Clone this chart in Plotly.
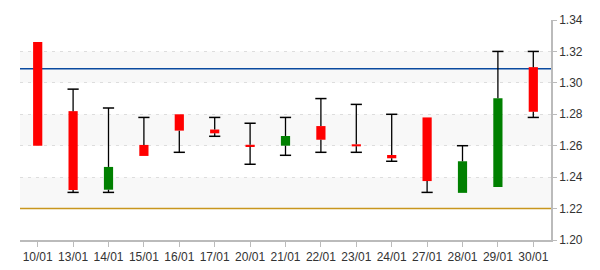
import plotly.graph_objects as go

dates = ["10/01", "13/01", "14/01", "15/01", "16/01", "17/01", "20/01", "21/01",
         "22/01", "23/01", "24/01", "27/01", "28/01", "29/01", "30/01"]
opens = [1.326, 1.282, 1.232, 1.2605, 1.280, 1.2703, 1.2606, 1.260,
         1.2725, 1.2609, 1.2541, 1.278, 1.230, 1.2337, 1.310]
highs = [1.326, 1.296, 1.284, 1.278, 1.280, 1.278, 1.2743, 1.278,
         1.290, 1.2863, 1.280, 1.278, 1.260, 1.320, 1.320]
lows = [1.260, 1.2303, 1.2303, 1.2535, 1.2558, 1.266, 1.2482, 1.2539,
        1.2558, 1.2558, 1.2501, 1.2303, 1.230, 1.2337, 1.278]
closes = [1.260, 1.2318, 1.2465, 1.2535, 1.2696, 1.2679, 1.2594, 1.2662,
          1.2638, 1.2596, 1.2520, 1.2375, 1.2501, 1.2902, 1.2816]

ref_upper = 1.309
ref_lower = 1.22
y_ticks = [1.20, 1.22, 1.24, 1.26, 1.28, 1.30, 1.32, 1.34]
band_ranges = [(1.30, 1.32), (1.26, 1.28), (1.22, 1.24)]

UP = "#008000"
DOWN = "#ff0000"
EPS = 1e-6

tops = [max(o, c) for o, c in zip(opens, closes)]
bots = [min(o, c) for o, c in zip(opens, closes)]
colors = [UP if c >= o else DOWN for o, c in zip(opens, closes)]

fig = go.Figure()

# upper wicks
fig.add_trace(go.Scatter(
    x=dates, y=tops, mode="markers", marker=dict(opacity=0, size=1),
    error_y=dict(type="data", symmetric=False,
                 array=[h - t for h, t in zip(highs, tops)],
                 arrayminus=[0] * len(dates), width=0, thickness=1.3, color="black"),
    hoverinfo="skip"))
# lower wicks
fig.add_trace(go.Scatter(
    x=dates, y=bots, mode="markers", marker=dict(opacity=0, size=1),
    error_y=dict(type="data", symmetric=False,
                 array=[0] * len(dates),
                 arrayminus=[b - l for b, l in zip(bots, lows)], width=0, thickness=1.3, color="black"),
    hoverinfo="skip"))
# caps
fig.add_trace(go.Scatter(
    x=dates, y=[h if h > t + EPS else None for h, t in zip(highs, tops)],
    mode="markers", marker=dict(symbol="line-ew", size=8, line=dict(width=1.5, color="black")),
    hoverinfo="skip"))
fig.add_trace(go.Scatter(
    x=dates, y=[l if l < b - EPS else None for l, b in zip(lows, bots)],
    mode="markers", marker=dict(symbol="line-ew", size=8, line=dict(width=1.5, color="black")),
    hoverinfo="skip"))
# bodies
fig.add_trace(go.Bar(
    x=dates, base=bots, y=[max(t - b, 0.0012) for t, b in zip(tops, bots)],
    width=0.26, marker=dict(color=colors, line=dict(width=0)), hoverinfo="skip"))

shapes = []
for y0, y1 in band_ranges:
    shapes.append(dict(type="rect", xref="paper", yref="y", x0=0, x1=1, y0=y0, y1=y1,
                       fillcolor="#f8f8f8", line=dict(width=0), layer="below"))
shapes.append(dict(type="line", xref="paper", yref="y", x0=0, x1=1, y0=ref_upper, y1=ref_upper,
                   line=dict(color="#0a4a9f", width=1.5), layer="between"))
shapes.append(dict(type="line", xref="paper", yref="y", x0=0, x1=1, y0=ref_lower, y1=ref_lower,
                   line=dict(color="#c8961e", width=1.5), layer="above"))

fig.update_layout(
    width=600, height=270,
    margin=dict(l=20, r=49, t=20, b=30, autoexpand=False),
    paper_bgcolor="white", plot_bgcolor="white",
    showlegend=False, hovermode=False,
    barmode="overlay",
    shapes=shapes,
    font=dict(family="Liberation Sans, Arial, sans-serif", size=12, color="#333"),
    xaxis=dict(type="category", range=[-0.5, len(dates) - 0.5], automargin=False,
               showgrid=False, showline=True, linecolor="#bbbbbb", linewidth=1.5,
               ticks="outside", ticklen=5, tickcolor="#bbbbbb", tickwidth=1,
               tickfont=dict(size=12, color="#333"), fixedrange=True),
    yaxis=dict(side="right", range=[1.20, 1.34], tickvals=y_ticks, automargin=False,
               ticktext=[f"{v:.2f}" for v in y_ticks],
               showgrid=True, gridcolor="#dddddd", griddash="3px,5px", gridwidth=1,
               showline=True, linecolor="#bbbbbb", linewidth=1.5,
               ticks="outside", ticklen=4, tickcolor="#bbbbbb",
               zeroline=False, tickfont=dict(size=12, color="#333"), fixedrange=True),
)

fig.write_html("out.html")
